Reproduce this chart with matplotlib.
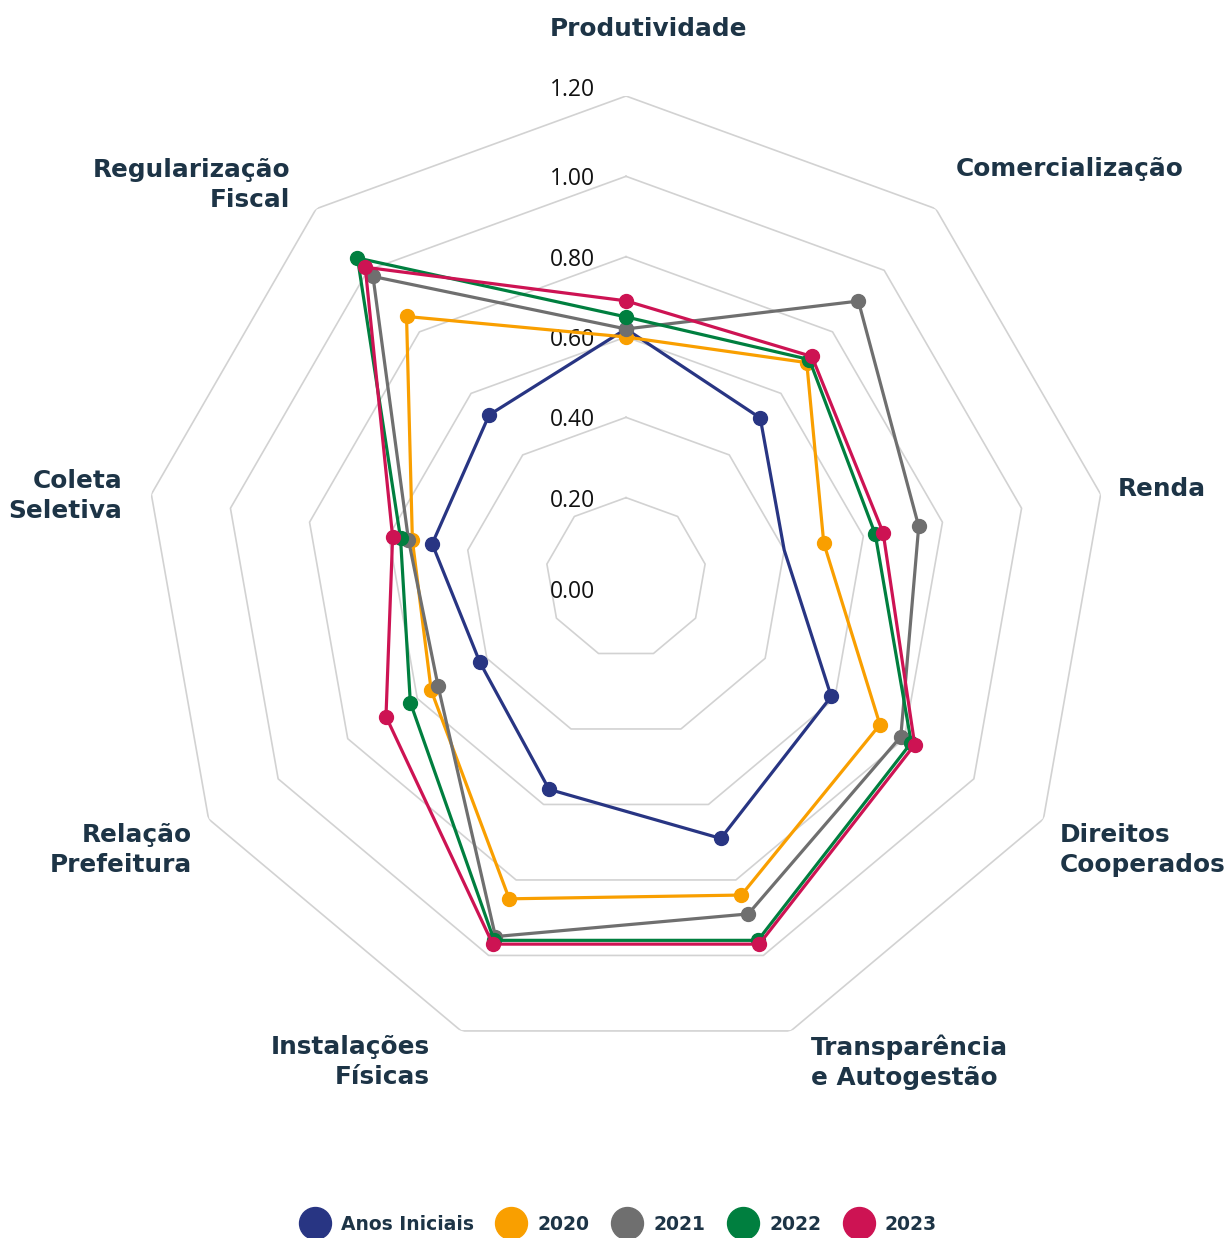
import matplotlib.pyplot as plt
from matplotlib.lines import Line2D
import numpy as np

W, H = 1230, 1238

categories = ['Produtividade', 'Comercialização', 'Renda', 'Direitos\nCooperados',
              'Transparência\ne Autogestão', 'Instalações\nFísicas', 'Relação\nPrefeitura',
              'Coleta\nSeletiva', 'Regularização\nFiscal']
series_names = ['Anos Iniciais', '2020', '2021', '2022', '2023']
anos_iniciais = [0.62, 0.52, 0.40, 0.59, 0.69, 0.56, 0.42, 0.49, 0.53]
y2020 = [0.60, 0.70, 0.50, 0.73, 0.84, 0.85, 0.56, 0.54, 0.85]
y2021 = [0.62, 0.90, 0.74, 0.79, 0.89, 0.95, 0.54, 0.55, 0.98]
y2022 = [0.65, 0.71, 0.63, 0.82, 0.96, 0.96, 0.62, 0.57, 1.04]
y2023 = [0.69, 0.72, 0.65, 0.83, 0.97, 0.97, 0.69, 0.59, 1.01]
ticks = [0.0, 0.2, 0.4, 0.6, 0.8, 1.0, 1.2]
tick_labels = ['0.00', '0.20', '0.40', '0.60', '0.80', '1.00', '1.20']

colors = ['#283583', '#f99f00', '#6f6f6f', '#007f3f', '#cd1353']
label_color = '#1d3446'

fig = plt.figure(figsize=(W / 100, H / 100), dpi=100)

# polar axes: centre at (626, 578) px, radius 1.2 -> 482 px
cx, cy, R = 626, 578, 482
ax = fig.add_axes([(cx - R) / W, 1 - (cy + R) / H, 2 * R / W, 2 * R / H], projection='polar')
ax.set_theta_zero_location('N')
ax.set_theta_direction(-1)
ax.set_ylim(0, 1.2)
ax.set_xticks([])
ax.set_yticks([])
ax.grid(False)
ax.spines['polar'].set_visible(False)

n = len(categories)
theta = np.linspace(0, 2 * np.pi, n, endpoint=False)
theta_c = np.append(theta, theta[0])

# polygon grid
for t in ticks[1:]:
    ax.plot(theta_c, [t] * (n + 1), color='#d2d2d2', lw=1.2, zorder=1)

for t, lab in zip(ticks, tick_labels):
    if t == 0:
        dy = -14
    elif t == 1.2:
        dy = 6
    else:
        dy = -3
    ax.annotate(lab, xy=(0, t), xytext=(-31, dy), textcoords='offset pixels',
                ha='right', va='center', fontsize=16.5, family='Open Sans',
                color='#111111', zorder=2)

all_series = [anos_iniciais, y2020, y2021, y2022, y2023]
for i, (vals, col) in enumerate(zip(all_series, colors)):
    v = np.append(vals, vals[0])
    marks = list(range(n))
    if i == 0:
        marks.remove(2)  # no dot drawn on Renda for Anos Iniciais
    ax.plot(theta_c, v, color=col, lw=2.3, marker='o', markersize=10,
            markevery=marks, zorder=3 + i, clip_on=False)

# category labels (pixel positions of the reference)
def fx(x):
    return x / W

def fy(y):
    return 1 - y / H

label_pos = [
    (649, 29, 'center'),
    (956, 169, 'left'),
    (1118, 489, 'left'),
    (1060, 850, 'left'),
    (811, 1062, 'left'),
    (430, 1062, 'right'),
    (192, 850, 'right'),
    (122, 496, 'right'),
    (290, 185, 'right'),
]
for lab, (x, y, ha) in zip(categories, label_pos):
    fig.text(fx(x), fy(y), lab, ha=ha, va='center', multialignment=ha,
             fontsize=17.8, fontweight='bold', family='DejaVu Sans',
             color=label_color, linespacing=1.3)

handles = [Line2D([], [], ls='none', marker='o', markersize=23, color=c) for c in colors]
leg = fig.legend(handles, series_names, loc='center', bbox_to_anchor=(0.505, 1 - 1224 / H),
                 ncol=5, frameon=False, handlelength=1.0, handletextpad=0.9,
                 columnspacing=1.5, prop={'family': 'DejaVu Sans', 'weight': 'bold', 'size': 13.5})
for txt in leg.get_texts():
    txt.set_color(label_color)

fig.savefig('out.png', dpi=100)
